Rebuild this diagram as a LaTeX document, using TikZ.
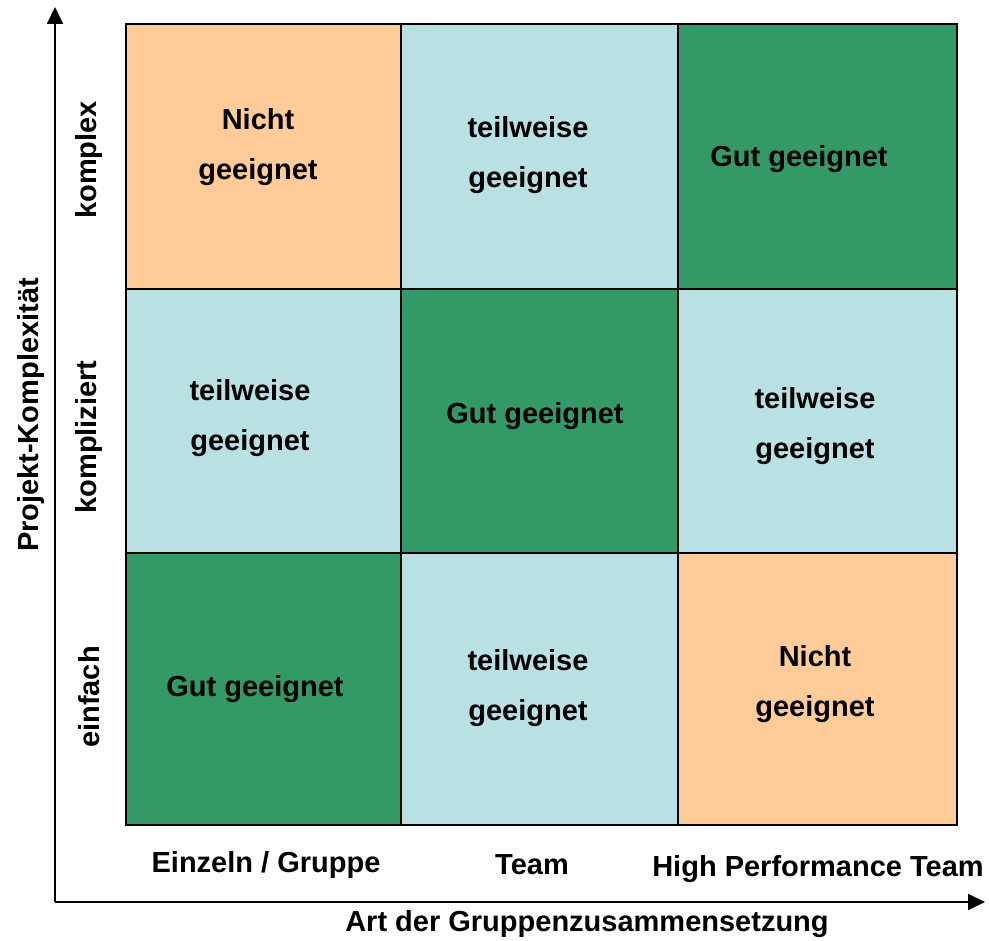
\documentclass[tikz,border=0pt]{standalone}
\usepackage{fontspec}
\setmainfont{Liberation Sans}
\usetikzlibrary{arrows.meta}
\definecolor{peach}{HTML}{FFCC99}
\definecolor{lblue}{HTML}{B9E0E3}
\definecolor{dgreen}{HTML}{339966}
\begin{document}
\begin{tikzpicture}[x=1pt,y=-1pt,
  cell/.style={draw=black,line width=2pt},
  lbl/.style={font=\fontsize{29}{50}\selectfont\bfseries,align=center,inner sep=0pt},
  axis/.style={line width=2pt,-{Triangle[length=17pt,width=16pt]}}]
\useasboundingbox (0,0) rectangle (989,941);
% cells
\path[cell,fill=peach]  (126,24) rectangle (401,289);
\path[cell,fill=lblue]  (401,24) rectangle (678,289);
\path[cell,fill=dgreen] (678,24) rectangle (957,289);
\path[cell,fill=lblue]  (126,289) rectangle (401,553);
\path[cell,fill=dgreen] (401,289) rectangle (678,553);
\path[cell,fill=lblue]  (678,289) rectangle (957,553);
\path[cell,fill=dgreen] (126,553) rectangle (401,825);
\path[cell,fill=lblue]  (401,553) rectangle (678,825);
\path[cell,fill=peach]  (678,553) rectangle (957,825);
% cell texts
\node[lbl] (t00) at (258,147) {Nicht\\geeignet};
\node[lbl] (t01) at (528,155) {teilweise\\geeignet};
\node[lbl] (t02) at (799,159) {Gut geeignet};
\node[lbl] (t10) at (250,418) {teilweise\\geeignet};
\node[lbl] (t11) at (535,416) {Gut geeignet};
\node[lbl] (t12) at (815,426) {teilweise\\geeignet};
\node[lbl] (t20) at (255,689) {Gut geeignet};
\node[lbl] (t21) at (528,688) {teilweise\\geeignet};
\node[lbl] (t22) at (815,684) {Nicht\\geeignet};
% axes
\coordinate (o) at (55,902);
\coordinate (ytip) at (55,7);
\coordinate (xtip) at (985,902);
\draw[axis] (o) -- (ytip);
\draw[axis] (o) -- (xtip);
% axis labels
\node[lbl] (c1) at (266,865) {Einzeln / Gruppe};
\node[lbl] (c2) at (532,865) {Team};
\node[lbl] (c3) at (818,869) {High Performance Team};
\node[lbl] (xl) at (587,924) {Art der Gruppenzusammensetzung};
\node[lbl,rotate=90] (r1) at (89,160) {komplex};
\node[lbl,rotate=90] (r2) at (89,437) {kompliziert};
\node[lbl,rotate=90] (r3) at (89,697) {einfach};
\node[lbl,rotate=90] (yl) at (31,415) {Projekt-Komplexität};
\end{tikzpicture}
\end{document}
